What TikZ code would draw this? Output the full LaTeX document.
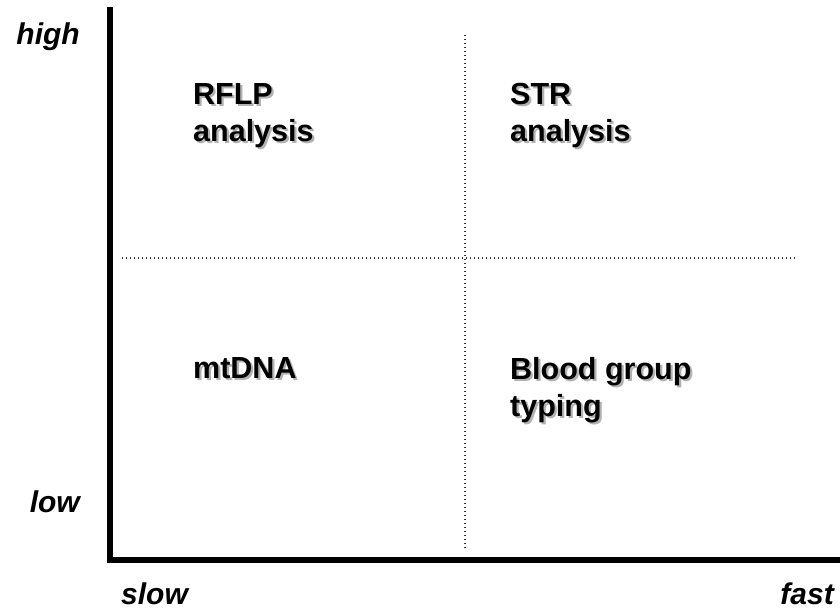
\documentclass[tikz,border=0pt]{standalone}
\usepackage{fontspec}
\setmainfont{Liberation Sans}
\begin{document}
\begin{tikzpicture}[x=1pt,y=-1pt,
  lab/.style={font=\fontsize{30.5}{37}\selectfont\bfseries, anchor=north west, align=left, inner sep=0pt},
  shad/.style={lab, text=black!30},
  axlab/.style={font=\fontsize{30}{34}\selectfont\bfseries\itshape, inner sep=0pt},
  axisline/.style={line width=6pt},
  grid/.style={line width=1.3pt, black!80, dash pattern=on 1.4pt off 2.6pt}]
\useasboundingbox (0,0) rectangle (840,609);
\coordinate (top) at (109.7,7);
\coordinate (origin) at (109.7,560);
\coordinate (right) at (840,560);
\draw[axisline] (top) -- (origin) -- (right);
\coordinate (h1) at (122,258);
\coordinate (h2) at (795,258);
\coordinate (v1) at (465,35);
\coordinate (v2) at (465,548);
\draw[grid] (h1) -- (h2);
\draw[grid] (v1) -- (v2);
% shadows
\node[shad] at (195.2,85.2) {RFLP\\analysis};
\node[shad] at (512.2,85.2) {STR\\analysis};
\node[shad] at (195.2,359.2) {mtDNA};
\node[shad] at (512.2,359.2) {Blood group\\typing};
% texts
\node[lab] (rflp) at (193,83) {RFLP\\analysis};
\node[lab] (str) at (510,83) {STR\\analysis};
\node[lab] (mt) at (193,357) {mtDNA};
\node[lab] (blood) at (510,357) {Blood group\\typing};
\node[axlab, anchor=base east] (high) at (80,45) {high};
\node[axlab, anchor=base east] (low) at (80,512) {low};
\node[axlab, anchor=base west] (slow) at (121,604) {slow};
\node[axlab, anchor=base east] (fast) at (834,604) {fast};
\end{tikzpicture}
\end{document}
